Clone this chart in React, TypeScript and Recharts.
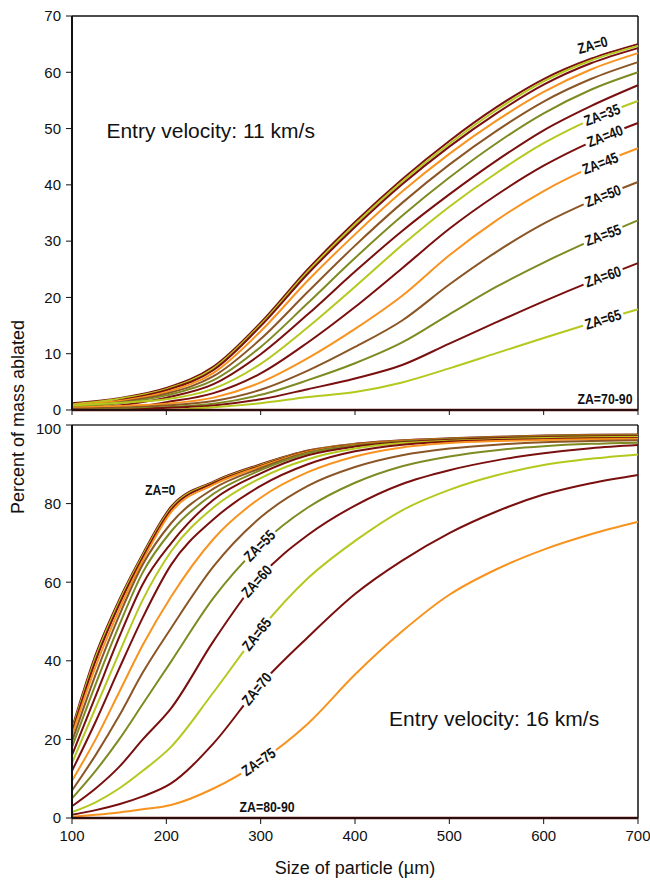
import React from 'react';
import { LineChart, Line, XAxis, YAxis, ReferenceLine, ReferenceDot, Label } from 'recharts';

// ---------- Top panel (entry velocity 11 km/s) ----------
const X_TOP = [100, 150, 200, 250, 300, 350, 400, 450, 500, 550, 600, 650, 700];
const top0 = [1.2, 2.1, 3.9, 7.7, 15.5, 25.0, 33.4, 41.0, 47.8, 53.8, 58.8, 62.4, 65.0];
const top5 = [1.0, 2.0, 3.7, 7.4, 15.2, 24.6, 33.0, 40.6, 47.3, 53.3, 58.4, 62.1, 64.7];
const top10 = [0.0, 1.7, 3.5, 7.1, 14.9, 24.2, 32.5, 40.1, 46.8, 52.7, 57.8, 61.6, 64.3];
const top15 = [0.9, 1.6, 3.2, 6.6, 14.0, 23.0, 31.2, 38.8, 45.5, 51.4, 56.5, 60.5, 63.4];
const top20 = [0.7, 1.4, 2.9, 6.0, 12.6, 21.0, 29.2, 36.8, 43.6, 49.6, 54.8, 58.8, 61.8];
const top25 = [0.5, 1.2, 2.6, 5.3, 11.2, 19.0, 27.0, 34.5, 41.3, 47.4, 52.7, 56.9, 60.0];
const top30 = [0.0, 0.8, 2.2, 4.6, 9.9, 17.0, 24.6, 31.8, 38.3, 44.3, 49.7, 54.0, 57.7];
const top35 = [0.8, 1.3, 1.9, 3.8, 8.2, 14.7, 21.9, 29.3, 36.1, 42.1, 47.4, 51.6, 54.9];
const top40 = [0.0, 0.2, 1.4, 3.0, 6.5, 12.0, 18.3, 25.2, 32.2, 38.2, 43.4, 47.6, 51.0];
const top45 = [0.4, 0.7, 1.1, 2.2, 4.9, 9.2, 14.4, 20.3, 27.5, 33.7, 38.9, 43.1, 46.5];
const top50 = [0.2, 0.4, 0.8, 1.6, 3.6, 7.0, 11.2, 15.9, 22.3, 28.1, 33.1, 37.1, 40.5];
const top55 = [0.0, 0.2, 0.5, 1.1, 2.7, 5.3, 8.3, 12.0, 17.0, 21.9, 26.2, 30.1, 33.7];
const top60 = [0.0, 0.0, 0.4, 0.8, 1.9, 3.7, 5.6, 8.0, 11.8, 15.6, 19.3, 22.8, 26.1];
const top65 = [0.0, 0.0, 0.0, 0.5, 1.2, 2.3, 3.2, 4.9, 7.4, 10.1, 12.8, 15.4, 17.9];
const top70to90 = [0, 0, 0, 0, 0, 0, 0, 0, 0, 0, 0, 0, 0];

// ---------- Bottom panel (entry velocity 16 km/s) ----------
const X_BOT = [100, 125, 150, 175, 205, 250, 300, 350, 400, 450, 500, 550, 600, 650, 700];
const bot0 = [22.8, 41.5, 55.5, 67.2, 79.2, 85.6, 90.0, 93.5, 95.2, 96.1, 96.6, 97.0, 97.3, 97.5, 97.6];
const bot5 = [22.3, 40.8, 55.0, 66.8, 78.8, 85.4, 89.8, 93.4, 95.1, 96.0, 96.5, 96.9, 97.2, 97.4, 97.5];
const bot10 = [21.8, 40.0, 54.3, 66.3, 78.4, 85.2, 89.6, 93.3, 95.0, 95.9, 96.4, 96.8, 97.1, 97.3, 97.4];
const bot15 = [21.0, 38.5, 53.0, 65.5, 77.8, 84.8, 89.4, 93.2, 94.9, 95.9, 96.4, 96.8, 97.1, 97.3, 97.4];
const bot20 = [19.5, 36.5, 51.5, 64.5, 75.0, 83.8, 89.0, 93.0, 94.8, 95.8, 96.4, 96.8, 97.1, 97.3, 97.4];
const bot25 = [18.0, 34.0, 49.0, 62.5, 72.9, 82.5, 88.5, 92.8, 94.7, 95.7, 96.3, 96.7, 97.0, 97.2, 97.3];
const bot30 = [16.0, 31.0, 46.0, 59.5, 69.9, 81.0, 87.7, 92.3, 94.5, 95.6, 96.2, 96.6, 96.9, 97.1, 97.2];
const bot35 = [14.0, 28.0, 42.0, 55.5, 67.8, 79.0, 86.5, 91.3, 94.0, 95.4, 96.0, 96.4, 96.7, 96.9, 97.0];
const bot40 = [12.0, 24.5, 38.0, 51.0, 64.4, 76.0, 84.5, 90.0, 93.3, 95.0, 95.8, 96.2, 96.4, 96.6, 96.7];
const bot45 = [9.5, 20.0, 32.0, 44.0, 56.3, 71.0, 81.5, 88.0, 92.0, 94.3, 95.4, 95.9, 96.2, 96.4, 96.5];
const bot50 = [7.0, 16.0, 26.0, 37.0, 48.3, 64.0, 76.5, 84.5, 89.3, 92.3, 94.0, 95.0, 95.6, 95.9, 96.1];
const bot55 = [5.0, 12.0, 20.0, 29.0, 39.8, 56.0, 69.5, 79.0, 85.3, 89.5, 92.0, 93.6, 94.6, 95.2, 95.5];
const bot60 = [3.0, 7.5, 13.0, 20.0, 27.9, 45.0, 61.5, 72.0, 79.5, 85.0, 88.5, 91.0, 92.8, 94.1, 94.9];
const bot65 = [1.5, 4.0, 7.5, 12.0, 18.1, 32.0, 48.0, 61.0, 70.5, 78.3, 83.5, 87.2, 89.8, 91.4, 92.5];
const bot70 = [0.8, 2.0, 3.5, 5.5, 8.8, 19.0, 34.0, 46.0, 57.0, 65.5, 72.5, 78.0, 82.3, 85.2, 87.3];
const bot75 = [0.3, 0.8, 1.4, 2.2, 3.3, 7.5, 14.5, 24.0, 36.5, 47.5, 56.8, 63.3, 68.3, 72.2, 75.4];
const bot80to90 = [0, 0, 0, 0, 0, 0, 0, 0, 0, 0, 0, 0, 0, 0, 0];

const X_TICKS = [100, 200, 300, 400, 500, 600, 700];
const TOP_Y_TICKS = [0, 10, 20, 30, 40, 50, 60, 70];
const BOT_Y_TICKS = [0, 20, 40, 60, 80, 100];

const COLORS: Record<string, string> = {
  dr: '#7a0f0f',
  yg: '#b4c81e',
  or: '#f7931e',
  br: '#8b5626',
  ol: '#7e8a22',
};
const CYCLE = ['dr', 'yg', 'dr', 'or', 'br', 'ol'];

const TOP_SERIES = [top0, top5, top10, top15, top20, top25, top30, top35, top40, top45, top50, top55, top60, top65];
const BOT_SERIES = [bot0, bot5, bot10, bot15, bot20, bot25, bot30, bot35, bot40, bot45, bot50, bot55, bot60, bot65, bot70, bot75];

const topRows = X_TOP.map((x, i) => {
  const r: any = { x, zero: top70to90[i] };
  TOP_SERIES.forEach((s, k) => (r['za' + k * 5] = s[i]));
  return r;
});
const botRows = X_BOT.map((x, i) => {
  const r: any = { x, zero: bot80to90[i] };
  BOT_SERIES.forEach((s, k) => (r['za' + k * 5] = s[i]));
  return r;
});

function interp(xs: number[], ys: number[], x: number) {
  for (let i = 0; i < xs.length - 1; i++) {
    if (x >= xs[i] && x <= xs[i + 1]) {
      const t = (x - xs[i]) / (xs[i + 1] - xs[i]);
      return ys[i] + t * (ys[i + 1] - ys[i]);
    }
  }
  return ys[ys.length - 1];
}

// labels that sit on (and break) their own line
const TOP_LINE_LABELS = [
  { text: 'ZA=35', idx: 7, x: 662, angle: -21 },
  { text: 'ZA=40', idx: 8, x: 665, angle: -21 },
  { text: 'ZA=45', idx: 9, x: 660, angle: -21 },
  { text: 'ZA=50', idx: 10, x: 663, angle: -21 },
  { text: 'ZA=55', idx: 11, x: 663, angle: -20 },
  { text: 'ZA=60', idx: 12, x: 663, angle: -19 },
  { text: 'ZA=65', idx: 13, x: 663, angle: -17 },
];
const BOT_LINE_LABELS = [
  { text: 'ZA=55', idx: 11, x: 299, angle: -45 },
  { text: 'ZA=60', idx: 12, x: 296, angle: -48 },
  { text: 'ZA=65', idx: 13, x: 296, angle: -52 },
  { text: 'ZA=70', idx: 14, x: 296, angle: -50 },
  { text: 'ZA=75', idx: 15, x: 298, angle: -35 },
];

const FONT = "'Liberation Sans', Arial, sans-serif";

const zaShape = (text: string, angle: number, box: boolean) => (p: any) => {
  const w = text.length * 7.6 + 4;
  return (
    <g transform={`translate(${p.cx},${p.cy}) rotate(${angle})`}>
      {box && <rect x={-w / 2} y={-6} width={w} height={12} fill="#ffffff" />}
      <g transform="scale(0.82,1)">
        <text
          x={0}
          y={0}
          textAnchor="middle"
          dominantBaseline="central"
          fontFamily={FONT}
          fontWeight="bold"
          fontSize={15}
          fill="#111"
        >
          {text}
        </text>
      </g>
    </g>
  );
};

const textShape = (text: string) => (p: any) => (
  <text
    x={p.cx}
    y={p.cy}
    textAnchor="middle"
    dominantBaseline="central"
    fontFamily={FONT}
    fontSize={21}
    fill="#111"
  >
    {text}
  </text>
);

const tickStyle = { fill: '#111', fontSize: 15, fontFamily: FONT };

export default function App() {
  return (
    <div style={{ position: 'absolute', left: 0, top: 0, width: 650, height: 888, background: '#fff' }}>
      <div style={{ position: 'absolute', left: 0, top: 0 }}>
        <LineChart width={650} height={420} data={topRows} margin={{ top: 16, right: 12, left: 0, bottom: 0 }}>
          <XAxis
            dataKey="x"
            type="number"
            domain={[100, 700]}
            ticks={X_TICKS}
            height={10}
            tickFormatter={() => ''}
            axisLine={{ stroke: '#111', strokeWidth: 1.5 }}
            tickLine={{ stroke: '#111' }}
            tickSize={5}
          />
          <YAxis
            type="number"
            domain={[0, 70]}
            ticks={TOP_Y_TICKS}
            width={72}
            tick={tickStyle}
            tickMargin={5}
            tickSize={6}
            axisLine={{ stroke: '#111', strokeWidth: 2 }}
            tickLine={{ stroke: '#111' }}
          />
          <ReferenceLine y={70} stroke="#111" strokeWidth={1.5} />
          <ReferenceLine x={700} stroke="#111" strokeWidth={1.5} />
          {TOP_SERIES.map((_, k) => (
            <Line
              key={k}
              dataKey={'za' + k * 5}
              type="monotone"
              stroke={COLORS[CYCLE[k % 6]]}
              strokeWidth={2}
              dot={false}
              isAnimationActive={false}
            />
          ))}
          <Line dataKey="zero" type="linear" stroke={COLORS.dr} strokeWidth={2.5} dot={false} isAnimationActive={false} />
          {TOP_LINE_LABELS.map((l) => (
            <ReferenceDot
              key={l.text}
              x={l.x}
              y={interp(X_TOP, TOP_SERIES[l.idx], l.x)}
              r={0}
              shape={zaShape(l.text, l.angle, true)}
            />
          ))}
          <ReferenceDot x={652} y={64.8} r={0} shape={zaShape('ZA=0', -15, false)} />
          <ReferenceDot x={665} y={2.0} r={0} shape={zaShape('ZA=70-90', 0, false)} />
          <ReferenceDot x={247} y={49.6} r={0} shape={textShape('Entry velocity: 11 km/s')} />
        </LineChart>
      </div>
      <div style={{ position: 'absolute', left: 0, top: 420 }}>
        <LineChart width={650} height={468} data={botRows} margin={{ top: 5, right: 12, left: 0, bottom: 0 }}>
          <XAxis
            dataKey="x"
            type="number"
            domain={[100, 700]}
            ticks={X_TICKS}
            height={70}
            tick={tickStyle}
            tickMargin={6}
            tickSize={6}
            axisLine={{ stroke: '#111', strokeWidth: 1.5 }}
            tickLine={{ stroke: '#111' }}
          >
            <Label
              value="Size of particle (µm)"
              position="insideBottom"
              offset={14}
              style={{ fontSize: 18, fontFamily: FONT, fill: '#111' }}
            />
          </XAxis>
          <YAxis
            type="number"
            domain={[0, 100]}
            ticks={BOT_Y_TICKS}
            width={72}
            tick={tickStyle}
            tickMargin={5}
            tickSize={6}
            axisLine={{ stroke: '#111', strokeWidth: 2 }}
            tickLine={{ stroke: '#111' }}
          />
          <ReferenceLine y={100} stroke="#333" strokeWidth={1.5} />
          <ReferenceLine x={700} stroke="#111" strokeWidth={1.5} />
          {BOT_SERIES.map((_, k) => (
            <Line
              key={k}
              dataKey={'za' + k * 5}
              type="monotone"
              stroke={COLORS[CYCLE[k % 6]]}
              strokeWidth={2}
              dot={false}
              isAnimationActive={false}
            />
          ))}
          <Line dataKey="zero" type="linear" stroke={COLORS.dr} strokeWidth={2.5} dot={false} isAnimationActive={false} />
          {BOT_LINE_LABELS.map((l) => (
            <ReferenceDot
              key={l.text}
              x={l.x}
              y={interp(X_BOT, BOT_SERIES[l.idx], l.x)}
              r={0}
              shape={zaShape(l.text, l.angle, true)}
            />
          ))}
          <ReferenceDot x={193.5} y={83.5} r={0} shape={zaShape('ZA=0', 0, false)} />
          <ReferenceDot x={306.8} y={2.8} r={0} shape={zaShape('ZA=80-90', 0, false)} />
          <ReferenceDot x={547.5} y={25.4} r={0} shape={textShape('Entry velocity: 16 km/s')} />
        </LineChart>
      </div>
      <svg width={650} height={888} style={{ position: 'absolute', left: 0, top: 0, pointerEvents: 'none' }}>
        <text
          transform="translate(18,417) rotate(-90)"
          textAnchor="middle"
          dominantBaseline="central"
          fontFamily={FONT}
          fontSize={18}
          fill="#111"
        >
          Percent of mass ablated
        </text>
      </svg>
    </div>
  );
}
